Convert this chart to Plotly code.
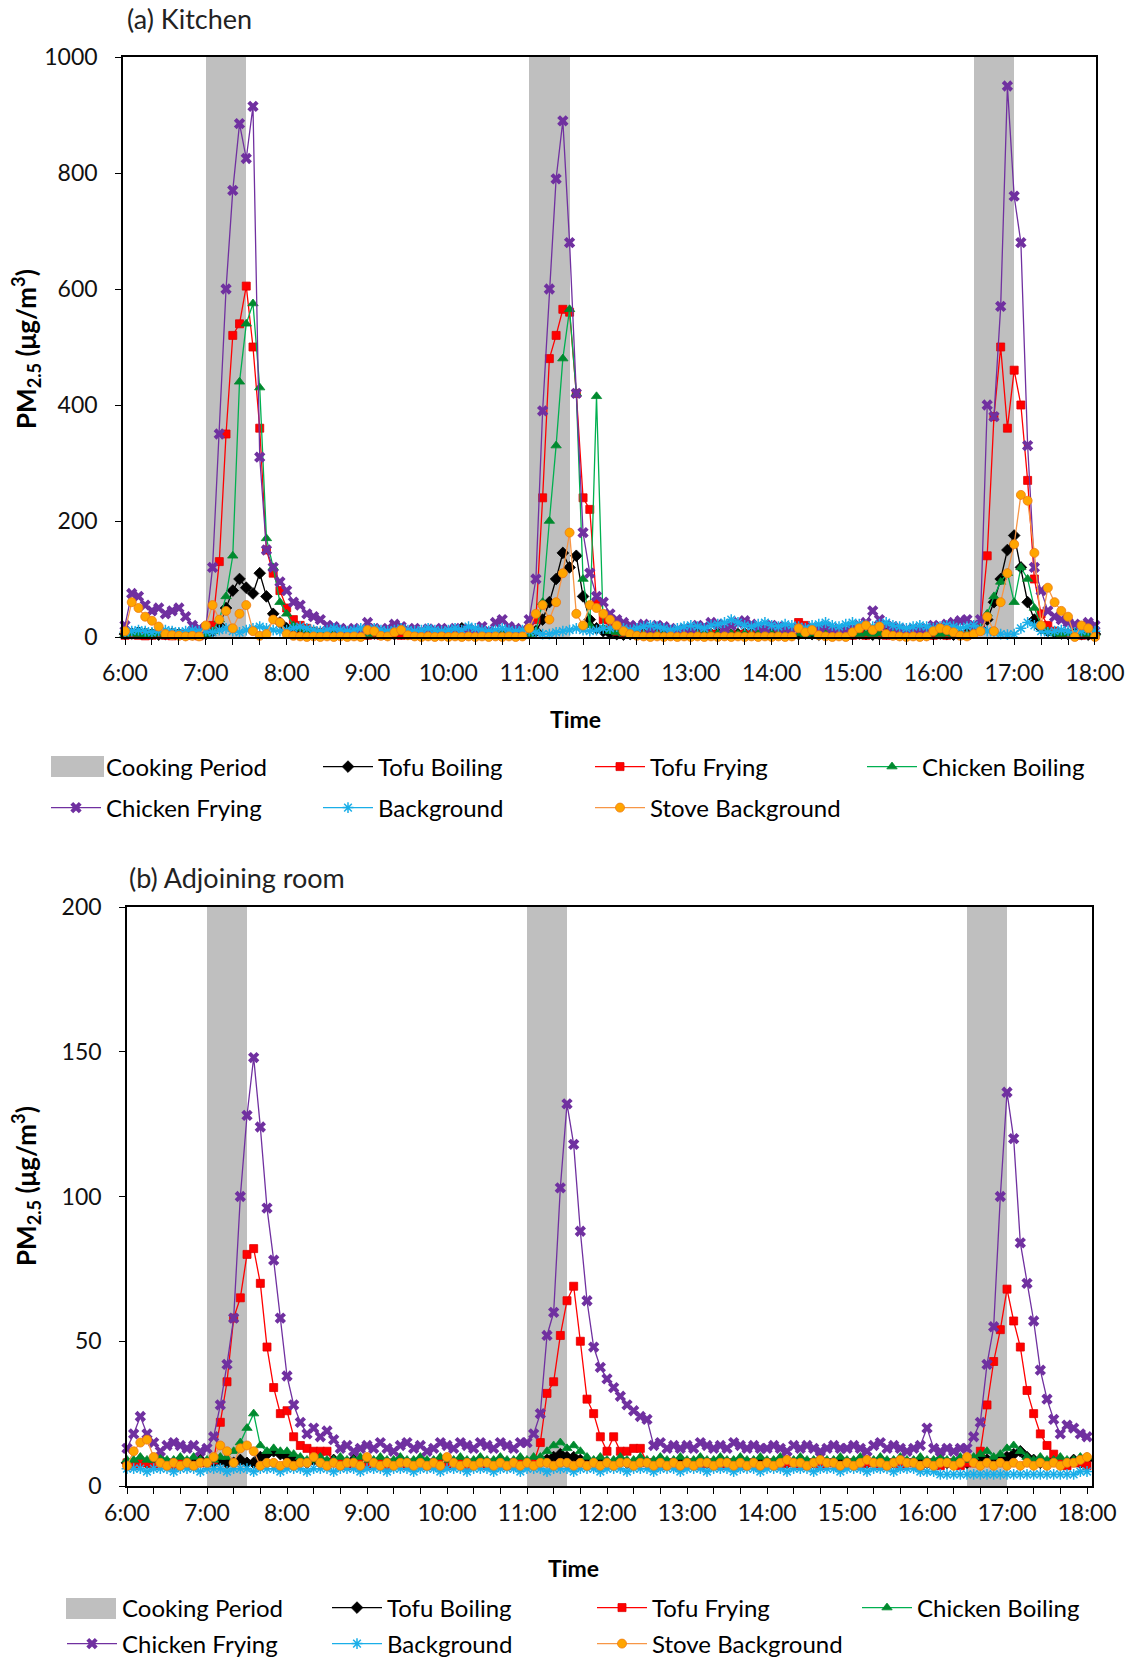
import pandas as pd
import plotly.graph_objects as go

W, H = 1136, 1660
FONT = "Lato, 'Open Sans', sans-serif"

# 5-minute sampling grid, 06:00 - 18:00
times = pd.date_range("2021-01-01 06:00", "2021-01-01 18:00", freq="5min")

# Cooking periods
cooking_start = pd.to_datetime(["2021-01-01 07:00", "2021-01-01 11:00", "2021-01-01 16:30"])
cooking_end = pd.to_datetime(["2021-01-01 07:30", "2021-01-01 11:30", "2021-01-01 17:00"])

# ---------------- (a) Kitchen, PM2.5 (ug/m3) ----------------
kitchen_tofu_boiling = [
    5, 6, 8, 6, 5, 4, 5, 6, 5, 4, 5, 6,                 # 06h
    5, 10, 20, 50, 80, 100, 85, 75, 110, 70, 40, 25,    # 07h
    15, 10, 8, 6, 5, 6, 5, 4, 5, 6, 5, 4,               # 08h
    5, 6, 5, 4, 5, 6, 5, 6, 5, 4, 5, 6,                 # 09h
    5, 6, 15, 5, 4, 5, 6, 5, 4, 5, 6, 5,                # 10h
    8, 10, 30, 60, 100, 145, 120, 140, 70, 30, 15, 10,  # 11h
    6, 5, 4, 5, 6, 5, 4, 5, 6, 5, 4, 5,                 # 12h
    6, 5, 4, 5, 6, 5, 4, 5, 6, 5, 4, 5,                 # 13h
    5, 6, 5, 4, 5, 6, 5, 4, 5, 6, 5, 4,                 # 14h
    5, 6, 5, 4, 5, 6, 5, 4, 5, 6, 5, 4,                 # 15h
    5, 6, 5, 4, 5, 6, 10, 15, 30, 60, 100, 150,         # 16h
    175, 120, 60, 30, 15, 10, 8, 6, 5, 6, 5, 4,         # 17h
    5,
]
kitchen_tofu_frying = [
    3, 4, 3, 2, 3, 4, 3, 2, 3, 4, 3, 2,
    10, 20, 130, 350, 520, 540, 605, 500, 360, 150, 110, 80,
    50, 30, 20, 15, 10, 8, 6, 5, 5, 4, 5, 4,
    3, 4, 3, 5, 4, 3, 4, 3, 5, 4, 3, 4,
    3, 4, 3, 5, 4, 3, 4, 3, 5, 4, 3, 4,
    10, 30, 240, 480, 520, 565, 560, 420, 240, 220, 60, 30,
    15, 10, 8, 6, 5, 4, 5, 4, 3, 4, 3, 4,
    3, 4, 3, 5, 4, 3, 4, 3, 5, 4, 3, 4,
    3, 4, 5, 6, 25, 20, 15, 10, 5, 4, 3, 4,
    3, 4, 3, 5, 4, 3, 4, 3, 5, 4, 3, 4,
    3, 4, 3, 5, 4, 3, 10, 20, 140, 380, 500, 360,
    460, 400, 270, 100, 40, 20, 10, 6, 5, 4, 3, 4,
    3,
]
kitchen_chicken_boiling = [
    5, 6, 5, 4, 5, 6, 5, 4, 5, 6, 5, 4,
    5, 10, 30, 70, 140, 440, 540, 575, 430, 170, 120, 60,
    40, 20, 15, 12, 10, 8, 8, 6, 5, 6, 5, 6,
    5, 6, 5, 6, 8, 10, 8, 6, 5, 6, 5, 6,
    5, 6, 5, 6, 5, 6, 5, 6, 5, 6, 5, 6,
    5, 10, 60, 200, 330, 480, 565, 420, 100, 20, 415, 15,
    10, 8, 6, 5, 6, 5, 6, 5, 6, 5, 6, 5,
    6, 5, 6, 5, 6, 5, 6, 5, 6, 5, 6, 5,
    6, 5, 6, 5, 6, 5, 6, 5, 6, 5, 6, 5,
    6, 5, 6, 5, 6, 5, 6, 5, 6, 5, 6, 5,
    6, 5, 6, 5, 6, 5, 10, 15, 40, 70, 95, 110,
    60, 120, 100, 50, 20, 10, 6, 5, 6, 5, 6, 5,
    6,
]
kitchen_chicken_frying = [
    20, 75, 70, 55, 45, 50, 40, 45, 50, 35, 20, 15,
    15, 120, 350, 600, 770, 885, 825, 915, 310, 150, 120, 95,
    80, 60, 55, 40, 35, 30, 20, 18, 15, 12, 15, 12,
    25, 15, 12, 15, 22, 18, 12, 15, 10, 14, 12, 15,
    12, 15, 10, 14, 12, 18, 10, 25, 30, 18, 15, 12,
    30, 100, 390, 600, 790, 890, 680, 420, 180, 110, 70, 60,
    40, 30, 25, 20, 18, 22, 15, 20, 18, 15, 12, 14,
    15, 20, 18, 25, 22, 15, 20, 25, 28, 22, 18, 15,
    20, 18, 15, 12, 15, 14, 12, 15, 18, 12, 14, 12,
    15, 20, 25, 45, 30, 20, 18, 15, 12, 14, 12, 15,
    20, 18, 22, 25, 28, 30, 20, 30, 400, 380, 570, 950,
    760, 680, 330, 120, 80, 45, 35, 30, 25, 22, 20, 25,
    20,
]
kitchen_background = [
    8, 10, 12, 10, 8, 10, 12, 10, 8, 10, 12, 10,
    10, 8, 12, 15, 10, 8, 12, 15, 18, 15, 12, 10,
    12, 15, 18, 15, 12, 10, 12, 15, 12, 10, 12, 15,
    12, 15, 12, 10, 12, 15, 12, 10, 12, 15, 12, 10,
    12, 15, 12, 18, 15, 12, 10, 12, 15, 12, 10, 12,
    10, 8, 5, 5, 8, 10, 12, 15, 12, 10, 12, 15,
    15, 18, 15, 12, 15, 18, 20, 18, 15, 12, 15, 18,
    20, 18, 15, 20, 22, 25, 30, 25, 20, 18, 22, 25,
    20, 18, 22, 20, 18, 15, 20, 22, 25, 20, 18, 22,
    25, 22, 20, 18, 22, 25, 20, 18, 15, 18, 20, 18,
    15, 18, 20, 18, 15, 18, 20, 15, 10, 8, 5, 4,
    5, 15, 25, 20, 10, 8, 10, 12, 10, 8, 10, 12,
    10,
]
kitchen_stove_background = [
    10, 60, 50, 35, 28, 18, 5, 3, 2, 1, 2, 1,
    20, 55, 30, 45, 15, 40, 55, 10, 2, 5, 30, 25,
    5, 2, 1, 0, 1, 0, 1, 0, 1, 0, 1, 0,
    12, 10, 2, 1, 8, 12, 3, 1, 0, 1, 0, 1,
    0, 1, 0, 1, 0, 1, 0, 1, 0, 1, 0, 1,
    15, 40, 55, 30, 60, 110, 180, 40, 20, 55, 50, 40,
    30, 20, 10, 5, 2, 1, 0, 1, 0, 1, 0, 1,
    0, 1, 0, 1, 0, 1, 0, 1, 0, 1, 0, 1,
    0, 1, 0, 1, 15, 8, 12, 3, 1, 0, 1, 0,
    8, 15, 20, 12, 18, 5, 2, 1, 0, 1, 0, 1,
    10, 15, 12, 8, 2, 1, 5, 10, 35, 10, 60, 110,
    160, 245, 235, 145, 20, 85, 60, 45, 35, 0, 20, 15,
    0,
]

# ---------------- (b) Adjoining room, PM2.5 (ug/m3) ----------------
adjoining_tofu_boiling = [
    8, 8, 9, 8, 8, 9, 8, 8, 9, 8, 8, 9,
    8, 8, 9, 8, 8, 9, 8, 8, 10, 11, 12, 11,
    10, 9, 8, 8, 9, 8, 8, 9, 8, 8, 9, 8,
    8, 8, 9, 8, 8, 9, 8, 8, 9, 8, 8, 9,
    8, 8, 9, 8, 8, 9, 8, 8, 9, 8, 8, 9,
    8, 8, 9, 9, 10, 11, 10, 10, 9, 8, 8, 9,
    8, 8, 9, 8, 8, 9, 8, 8, 9, 8, 8, 9,
    8, 8, 9, 8, 8, 9, 8, 8, 9, 8, 8, 9,
    8, 8, 9, 8, 8, 9, 8, 8, 9, 8, 8, 9,
    8, 8, 9, 8, 8, 9, 8, 8, 9, 8, 8, 9,
    8, 8, 9, 8, 8, 9, 8, 9, 10, 9, 8, 9,
    10, 11, 12, 10, 9, 8, 8, 9, 8, 8, 9, 8,
    9,
]
adjoining_tofu_frying = [
    8, 7, 8, 8, 7, 8, 8, 7, 8, 8, 7, 8,
    8, 9, 22, 36, 58, 65, 80, 82, 70, 48, 34, 25,
    26, 17, 14, 13, 12, 12, 12, 8, 8, 7, 8, 8,
    7, 8, 8, 7, 8, 8, 7, 8, 8, 7, 8, 8,
    7, 8, 8, 7, 8, 8, 7, 8, 8, 7, 8, 8,
    8, 8, 15, 32, 36, 52, 64, 69, 50, 30, 25, 17,
    12, 17, 12, 12, 13, 13, 8, 8, 7, 8, 8, 7,
    8, 8, 7, 8, 8, 7, 8, 8, 7, 8, 8, 7,
    8, 8, 7, 8, 8, 7, 8, 8, 7, 8, 8, 7,
    8, 8, 7, 8, 8, 7, 8, 8, 7, 8, 8, 7,
    8, 8, 7, 8, 8, 7, 8, 8, 12, 28, 43, 54,
    68, 57, 48, 33, 25, 18, 14, 11, 8, 7, 8, 8,
    7,
]
adjoining_chicken_boiling = [
    9, 9, 10, 9, 9, 10, 9, 9, 10, 9, 10, 9,
    9, 9, 10, 10, 12, 15, 20, 25, 14, 12, 13, 12,
    12, 11, 10, 9, 9, 10, 9, 9, 10, 9, 9, 10,
    9, 9, 10, 9, 9, 10, 9, 9, 10, 9, 9, 10,
    9, 9, 10, 9, 9, 10, 9, 9, 10, 9, 9, 10,
    9, 10, 10, 12, 14, 15, 13, 14, 12, 10, 9, 10,
    9, 9, 10, 9, 9, 10, 9, 9, 10, 9, 9, 10,
    9, 9, 10, 9, 9, 10, 9, 9, 10, 9, 9, 10,
    9, 9, 10, 9, 9, 10, 9, 9, 10, 9, 9, 10,
    9, 9, 10, 9, 9, 10, 9, 9, 10, 9, 9, 10,
    9, 9, 10, 9, 9, 10, 9, 10, 11, 12, 10, 11,
    13, 14, 12, 10, 9, 10, 9, 9, 10, 9, 9, 10,
    10,
]
adjoining_chicken_frying = [
    13, 18, 24, 18, 15, 12, 14, 15, 14, 13, 14, 12,
    13, 17, 28, 42, 58, 100, 128, 148, 124, 96, 78, 58,
    38, 28, 22, 18, 20, 17, 19, 16, 13, 14, 12, 13,
    14, 13, 15, 13, 12, 14, 15, 13, 14, 12, 13, 15,
    14, 13, 15, 14, 13, 15, 14, 13, 15, 14, 13, 15,
    15, 18, 25, 52, 60, 103, 132, 118, 88, 64, 48, 41,
    37, 34, 31, 28, 26, 24, 23, 14, 15, 13, 14, 13,
    14, 13, 15, 14, 13, 14, 13, 15, 14, 13, 14, 13,
    13, 14, 13, 12, 14, 13, 14, 13, 12, 13, 14, 13,
    13, 14, 13, 12, 14, 15, 13, 14, 13, 12, 13, 14,
    20, 13, 12, 13, 12, 13, 13, 17, 22, 42, 55, 100,
    136, 120, 84, 70, 57, 40, 30, 23, 18, 21, 20, 18,
    17,
]
adjoining_background = [
    6, 6, 6, 5, 6, 6, 6, 5, 6, 6, 6, 5,
    6, 6, 6, 5, 6, 6, 6, 5, 6, 6, 6, 5,
    6, 6, 6, 5, 6, 6, 6, 5, 6, 6, 6, 5,
    6, 6, 6, 5, 6, 6, 6, 5, 6, 6, 6, 5,
    6, 6, 6, 5, 6, 6, 6, 5, 6, 6, 6, 5,
    6, 6, 6, 5, 6, 6, 6, 5, 6, 6, 6, 5,
    6, 6, 6, 5, 6, 6, 6, 5, 6, 6, 6, 5,
    6, 6, 6, 5, 6, 6, 6, 5, 6, 6, 6, 5,
    6, 6, 6, 5, 6, 6, 6, 5, 6, 6, 6, 5,
    6, 6, 6, 5, 6, 6, 6, 5, 6, 6, 6, 5,
    5, 5, 4, 4, 4, 4, 4, 4, 4, 4, 4, 4,
    4, 4, 4, 4, 4, 4, 4, 4, 4, 4, 4, 5,
    5,
]
adjoining_stove_background = [
    7, 12, 15, 16, 10, 8, 7, 8, 7, 8, 7, 8,
    8, 10, 14, 12, 8, 13, 14, 12, 7, 8, 8, 7,
    8, 7, 8, 8, 10, 8, 7, 8, 7, 8, 8, 7,
    10, 8, 7, 8, 7, 8, 8, 7, 8, 7, 8, 7,
    10, 8, 7, 8, 7, 8, 8, 7, 8, 7, 8, 7,
    8, 7, 8, 8, 7, 8, 8, 7, 8, 7, 8, 7,
    8, 7, 8, 8, 7, 8, 8, 7, 8, 7, 8, 7,
    8, 7, 8, 8, 7, 8, 8, 7, 8, 7, 8, 7,
    8, 7, 8, 9, 8, 8, 7, 8, 9, 8, 8, 7,
    8, 7, 8, 9, 8, 8, 7, 8, 9, 8, 8, 7,
    8, 7, 8, 8, 7, 8, 10, 8, 7, 8, 7, 8,
    7, 8, 7, 8, 7, 8, 7, 8, 7, 8, 8, 9,
    10,
]

series_names = ["Tofu Boiling", "Tofu Frying", "Chicken Boiling",
                "Chicken Frying", "Background", "Stove Background"]
kitchen = [kitchen_tofu_boiling, kitchen_tofu_frying, kitchen_chicken_boiling,
           kitchen_chicken_frying, kitchen_background, kitchen_stove_background]
adjoining = [adjoining_tofu_boiling, adjoining_tofu_frying, adjoining_chicken_boiling,
             adjoining_chicken_frying, adjoining_background, adjoining_stove_background]

GRAY = "#BFBFBF"
styles = {
    "Tofu Boiling": dict(line="#000000", symbol="diamond", fill="#000000", edge="#000000", size=9),
    "Tofu Frying": dict(line="#FF0000", symbol="square", fill="#FF0000", edge="#E00000", size=8),
    "Chicken Boiling": dict(line="#00B050", symbol="triangle-up", fill="#008A2E", edge="#008A2E", size=9),
    "Chicken Frying": dict(line="#7030A0", symbol="x", fill="#7030A0", edge="#7030A0", size=10),
    "Background": dict(line="#1AAEE8", symbol="asterisk-open", fill="#1AAEE8", edge="#1AAEE8", size=9),
    "Stove Background": dict(line="#F79646", symbol="circle", fill="#FFA500", edge="#EE7A10", size=9),
}
first_row = {"Cooking Period", "Tofu Boiling", "Tofu Frying", "Chicken Boiling"}

cook_mid = cooking_start + (cooking_end - cooking_start) / 2
cook_width = [(e - s).total_seconds() * 1000 for s, e in zip(cooking_start, cooking_end)]

fig = go.Figure()


def add_panel(xa, ya, values, ymax, leg_rows):
    fig.add_trace(go.Bar(
        x=cook_mid, y=[ymax] * len(cook_mid), width=cook_width,
        name="Cooking Period", marker=dict(color=GRAY, line=dict(width=0)),
        xaxis=xa, yaxis=ya, legend=leg_rows[0], hoverinfo="skip"))
    for name, vals in zip(series_names, values):
        st = styles[name]
        marker = dict(symbol=st["symbol"], size=st["size"], color=st["fill"],
                      line=dict(color=st["edge"], width=1.5 if "asterisk" in st["symbol"] else 0.8))
        if st["symbol"] == "x":
            marker["line"] = dict(width=0)
        fig.add_trace(go.Scatter(
            x=times, y=vals, mode="lines+markers", name=name,
            line=dict(color=st["line"], width=1.3), marker=marker,
            xaxis=xa, yaxis=ya, cliponaxis=False,
            legend=leg_rows[0] if name in first_row else leg_rows[1]))


add_panel("x", "y", kitchen, 1000, ("legend", "legend2"))
add_panel("x2", "y2", adjoining, 200, ("legend3", "legend4"))


def px(x):
    return x / W


def py(y):
    return 1 - y / H


tick_font = dict(family=FONT, size=23, color="#111111")
common_x = dict(
    type="date", tickformat="%-H:%M", dtick=3600000, tick0="2021-01-01 06:00",
    ticks="outside", ticklen=6, tickwidth=1.2, tickcolor="#000000",
    showline=True, linecolor="#000000", linewidth=1.5, mirror=True,
    showgrid=False, zeroline=False, tickfont=tick_font,
    minor=dict(dtick=1200000, tick0="2021-01-01 06:00", ticks="outside",
               ticklen=6, tickwidth=1.2, tickcolor="#000000", showgrid=False),
)
common_y = dict(
    ticks="outside", ticklen=6, tickwidth=1.2, tickcolor="#000000",
    showline=True, linecolor="#000000", linewidth=1.5, mirror=True,
    showgrid=False, zeroline=False, tickfont=tick_font, ticklabelstandoff=13,
)

fig.update_layout(
    width=W, height=H, margin=dict(l=0, r=0, t=0, b=0, autoexpand=False),
    paper_bgcolor="white", plot_bgcolor="white", barmode="overlay", bargap=0,
    font=dict(family=FONT, color="#000000"),
    xaxis=dict(common_x, domain=[px(123), px(1096)], anchor="y",
               range=["2021-01-01 05:58:31", "2021-01-01 18:00:45"], ticklabelstandoff=9),
    yaxis=dict(common_y, domain=[py(637), py(57)], anchor="x", range=[0, 1000], dtick=200),
    xaxis2=dict(common_x, domain=[px(127), px(1092)], anchor="y2",
                range=["2021-01-01 06:00", "2021-01-01 18:03:45"], ticklabelstandoff=0),
    yaxis2=dict(common_y, domain=[py(1486), py(907)], anchor="x2", range=[0, 200], dtick=50),
    showlegend=True,
)

leg_common = dict(orientation="h", bgcolor="rgba(0,0,0,0)", borderwidth=0,
                  font=dict(family=FONT, size=24, color="#000000"),
                  itemwidth=50, entrywidth=207, entrywidthmode="pixels",
                  xanchor="left", yanchor="middle", tracegroupgap=0)
fig.update_layout(
    legend=dict(leg_common, x=px(46), y=py(767)),
    legend2=dict(leg_common, x=px(46), y=py(808)),
    legend3=dict(leg_common, x=px(62), y=py(1608), entrywidth=200),
    legend4=dict(leg_common, x=px(62), y=py(1644), entrywidth=200),
)

# Wide grey swatches for the "Cooking Period" legend entries
for x0, x1, y0, y1 in [(51, 104, 756, 777), (66, 116, 1598, 1619)]:
    fig.add_shape(type="rect", xref="paper", yref="paper",
                  x0=px(x0), x1=px(x1), y0=py(y1), y1=py(y0),
                  fillcolor=GRAY, line=dict(width=0), layer="above")

ann = []
ann.append(dict(text="(a) Kitchen", x=px(125), y=py(19), xanchor="left", yanchor="middle",
                font=dict(family=FONT, size=27, color="#222222")))
ann.append(dict(text="(b) Adjoining room", x=px(127), y=py(877), xanchor="left", yanchor="middle",
                font=dict(family=FONT, size=27, color="#222222")))
for xc, yc in [(575, 719), (573, 1568)]:
    ann.append(dict(text="<b>Time</b>", x=px(xc), y=py(yc), xanchor="center", yanchor="middle",
                    font=dict(family=FONT, size=23, color="#000000")))
for yc in [349, 1186]:
    ann.append(dict(text="<b>PM<sub>2.5</sub> (μg/m<sup>3</sup>)</b>", x=px(26), y=py(yc),
                    textangle=-90, xanchor="center", yanchor="middle",
                    font=dict(family=FONT, size=26, color="#000000")))
for a in ann:
    a.update(xref="paper", yref="paper", showarrow=False)
fig.update_layout(annotations=ann)

fig.write_html("out.html")
